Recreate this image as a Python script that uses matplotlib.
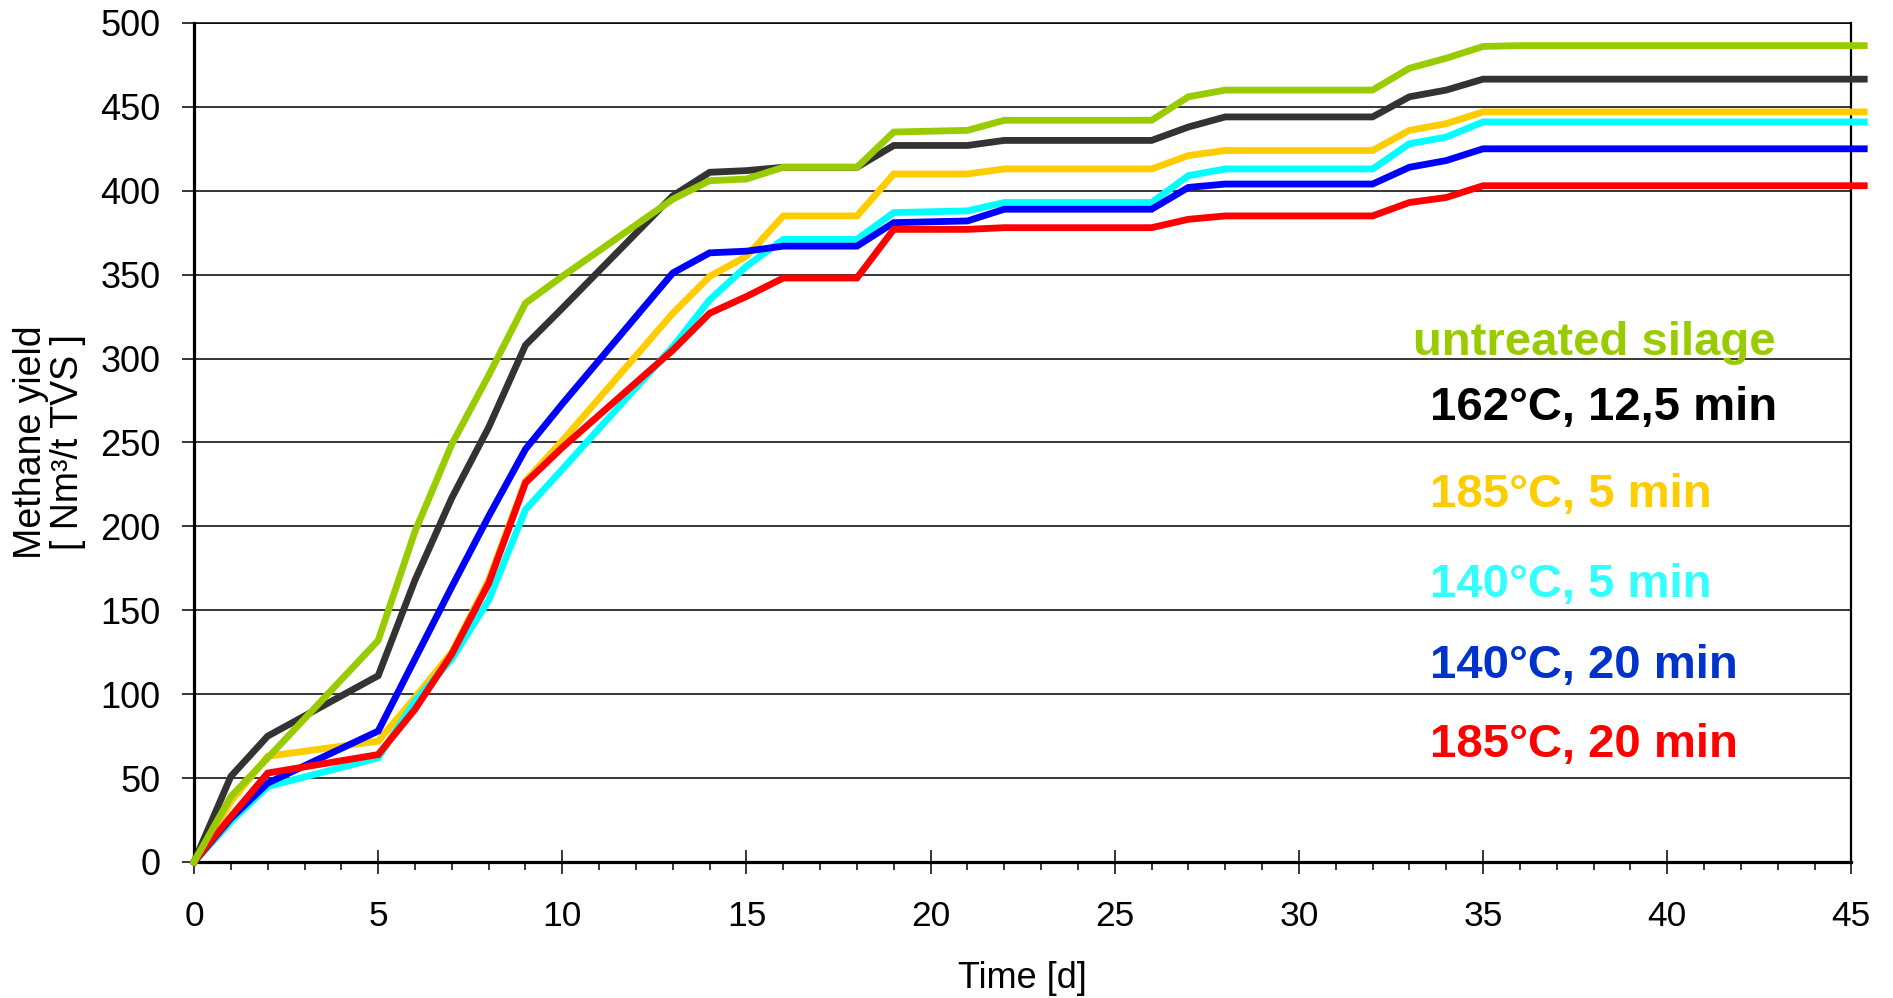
import matplotlib.pyplot as plt
from matplotlib.ticker import MultipleLocator

# digestion time [d] and cumulative methane yield [Nm3/t TVS]
days = [0, 1, 2, 5, 6, 7, 8, 9, 10, 13, 14, 15, 16, 18, 19, 21, 22, 26, 27, 28,
        32, 33, 34, 35, 36, 44, 45.35]

untreated = [0, 39, 62, 132, 197, 249, 290, 333, 349, 395, 406, 407, 414, 414, 435,
             436, 442, 442, 456, 460, 460, 473, 479, 486, 486.5, 486.5, 486.5]
t162_12 = [0, 51, 75, 111, 168, 217, 259, 308, 330, 397, 411, 412, 414, 414, 427,
           427, 430, 430, 438, 444, 444, 456, 460, 466.5, 466.5, 466.5, 466.5]
t185_5 = [0, 36, 63, 72, 98, 125, 168, 227, 251, 327, 349, 361, 385, 385, 410,
          410, 413, 413, 421, 424, 424, 436, 440, 447, 447, 447, 447]
t140_5 = [0, 24, 45, 62, 96, 121, 156, 210, 234, 307, 335, 355, 371, 371, 387,
          388, 393, 393, 409, 413, 413, 428, 432, 441, 441, 441, 441]
t140_20 = [0, 26, 47, 78, 121, 164, 206, 246, 273, 351, 363, 364, 367, 367, 381,
           382, 389, 389, 402, 404, 404, 414, 418, 425, 425, 425, 425]
t185_20 = [0, 27, 53, 64, 91, 124, 166, 226, 247, 305, 327, 337, 348, 348, 377,
           377, 378, 378, 383, 385, 385, 393, 396, 403, 403, 403, 403]

labels = ["untreated silage", "162°C, 12,5 min", "185°C, 5 min",
          "140°C, 5 min", "140°C, 20 min", "185°C, 20 min"]
series = [untreated, t162_12, t185_5, t140_5, t140_20, t185_20]
line_colors = ["#99CC00", "#333333", "#FFCC00", "#00FFFF", "#0000FF", "#FF0000"]
text_colors = ["#99CC00", "#000000", "#FFCC00", "#33FFFF", "#0033CC", "#FF0000"]
# label anchors (axes fraction, left / baseline)
label_x = [0.7357, 0.7458, 0.7458, 0.7458, 0.7458, 0.7458]
label_y = [0.6043, 0.5268, 0.4231, 0.3159, 0.2193, 0.1257]
draw_order = [1, 2, 3, 4, 5, 0]

plt.rcParams['font.family'] = ['Liberation Sans', 'DejaVu Sans']

fig = plt.figure(figsize=(18.93, 9.98), dpi=100)
ax = fig.add_axes([0.1025, 0.1363, 0.8755, 0.8407])

for z, i in enumerate(draw_order):
    ax.plot(days, series[i], color=line_colors[i], lw=4.9, clip_on=False,
            solid_joinstyle='miter', zorder=3 + z)

for i, txt in enumerate(labels):
    ax.text(label_x[i], label_y[i], txt, transform=ax.transAxes, ha='left',
            va='baseline', fontsize=34, fontweight='bold', color=text_colors[i],
            zorder=10)

ax.set_xlim(0, 45)
ax.set_ylim(0, 500)
ax.xaxis.set_major_locator(MultipleLocator(5))
ax.xaxis.set_minor_locator(MultipleLocator(1))
ax.yaxis.set_major_locator(MultipleLocator(50))

ax.grid(axis='y', color='black', lw=1.1, zorder=1)
ax.set_axisbelow(True)

for side in ['left', 'bottom']:
    ax.spines[side].set_linewidth(2.3)
ax.spines['right'].set_linewidth(1.6)
ax.spines['top'].set_linewidth(1.1)

ax.tick_params(axis='x', which='major', direction='inout', length=17, width=1.1,
               labelsize=25.5, pad=19)
ax.tick_params(axis='x', which='minor', direction='out', length=6, width=1.1)
ax.tick_params(axis='y', which='major', direction='out', length=9, width=1.1,
               labelsize=26, pad=15)

ax.set_xlabel("Time [d]", fontsize=26, labelpad=20)
ax.set_ylabel("Methane yield\n[ Nm³/t TVS ]", fontsize=27, labelpad=10,
              linespacing=1.05)

fig.savefig("out.png", dpi=100)
